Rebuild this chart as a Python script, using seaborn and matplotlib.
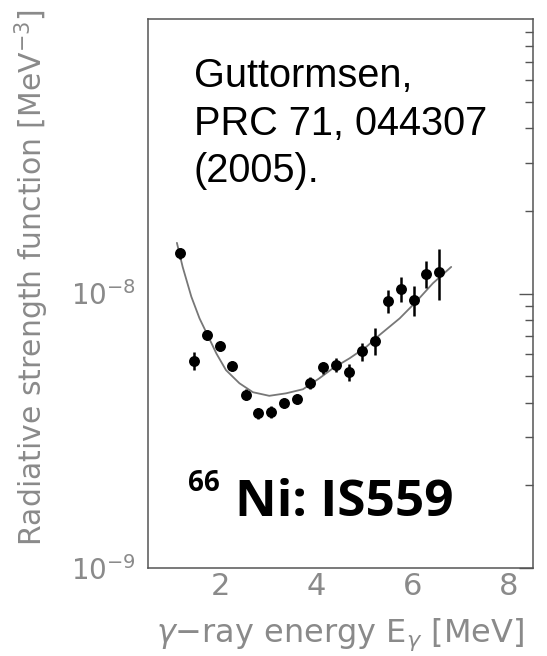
import matplotlib
matplotlib.use("Agg")
import matplotlib.pyplot as plt
import numpy as np
import pandas as pd
import seaborn as sns
from matplotlib.ticker import FixedLocator, LogLocator, MultipleLocator, NullFormatter

sns.set_style("white")
plt.rcParams["font.family"] = ["DejaVu Sans"]

# gamma-ray strength function of 66Ni
energy = [1.17, 1.45, 1.72, 1.99, 2.25, 2.53, 2.79, 3.05, 3.33, 3.60, 3.87,
          4.13, 4.40, 4.67, 4.94, 5.21, 5.48, 5.75, 6.02, 6.28, 6.54]
strength = [14.0e-9, 5.69e-9, 7.06e-9, 6.42e-9, 5.46e-9, 4.28e-9, 3.67e-9,
            3.70e-9, 3.99e-9, 4.13e-9, 4.73e-9, 5.38e-9, 5.50e-9, 5.19e-9,
            6.16e-9, 6.73e-9, 9.39e-9, 10.4e-9, 9.47e-9, 11.8e-9, 12.0e-9]
strength_err = [0.60e-9, 0.43e-9, 0.30e-9, 0.27e-9, 0.23e-9, 0.20e-9, 0.17e-9,
                0.19e-9, 0.17e-9, 0.17e-9, 0.24e-9, 0.27e-9, 0.32e-9, 0.37e-9,
                0.47e-9, 0.75e-9, 0.91e-9, 1.05e-9, 1.18e-9, 1.33e-9, 2.56e-9]

# fitted curve
fit_energy = [1.10, 1.22, 1.40, 1.57, 1.72, 1.92, 2.12, 2.40, 2.68, 3.02, 3.37,
              3.72, 4.06, 4.34, 4.69, 5.04, 5.31, 5.73, 6.07, 6.42, 6.80]
fit_strength = [15.3e-9, 12.5e-9, 9.74e-9, 8.12e-9, 7.16e-9, 6.05e-9, 5.26e-9,
                4.71e-9, 4.37e-9, 4.24e-9, 4.33e-9, 4.48e-9, 4.91e-9, 5.34e-9,
                5.81e-9, 6.40e-9, 7.06e-9, 8.12e-9, 9.33e-9, 10.9e-9, 12.5e-9]

data = pd.DataFrame({"E": energy, "f": strength, "err": strength_err})
fit = pd.DataFrame({"E": fit_energy, "f": fit_strength})

grey_text = "#8a8a8a"

fig = plt.figure(figsize=(5.47, 6.56), dpi=100)
ax = fig.add_axes([0.2706, 0.1341, 0.7038, 0.8369])

sns.lineplot(data=fit, x="E", y="f", color="#777777", linewidth=1.3, ax=ax)
ax.errorbar(data["E"], data["f"], yerr=data["err"], fmt="none",
            ecolor="black", elinewidth=1.8, capsize=0)
sns.scatterplot(data=data, x="E", y="f", color="black", s=62,
                edgecolor="black", linewidth=0, ax=ax, zorder=3)

ax.set_yscale("log")
ax.set_xlim(0.5, 8.5)
ax.set_ylim(1e-9, 1e-7)

ax.xaxis.set_major_locator(MultipleLocator(2))
ax.xaxis.set_minor_locator(MultipleLocator(0.5))
ax.yaxis.set_major_locator(FixedLocator([1e-9, 1e-8]))
ax.yaxis.set_minor_locator(LogLocator(base=10, subs=np.arange(2, 10)))
ax.yaxis.set_minor_formatter(NullFormatter())

ax.tick_params(which="both", direction="in", color="#555555", width=1.0,
               labelcolor=grey_text, labelsize=20, right=True)
ax.tick_params(which="major", length=10)
ax.tick_params(which="minor", length=5.5)
ax.tick_params(axis="x", pad=3, labelsize=22)
ax.tick_params(axis="y", pad=9)

for side in ax.spines.values():
    side.set_color("#555555")
    side.set_linewidth(1.1)

ax.set_xlabel(r"$\gamma$$-$ray energy E$_{\gamma}$ [MeV]", fontsize=23, color=grey_text)
ax.xaxis.set_label_coords(0.5, -0.088)
ax.set_ylabel("")
fig.text(32 / 547, 1 - 277 / 656, "Radiative strength function [MeV$^{-3}$]",
         rotation=90, ha="center", va="center", fontsize=21.5, color=grey_text)

ax.text(0.119, 0.931, "Guttormsen,\nPRC 71, 044307\n(2005).",
        transform=ax.transAxes, ha="left", va="top", fontsize=28.6,
        family=["Liberation Sans"], linespacing=1.32, color="black")

ax.text(0.226, 0.095, "Ni: IS559", transform=ax.transAxes, ha="left",
        va="baseline", fontsize=37, family=["Open Sans"], fontweight="bold", color="black")
ax.text(0.104, 0.140, "66", transform=ax.transAxes, ha="left",
        va="baseline", fontsize=20, family=["Open Sans"], fontweight="bold", color="black")

fig.savefig("out.png", dpi=100)
